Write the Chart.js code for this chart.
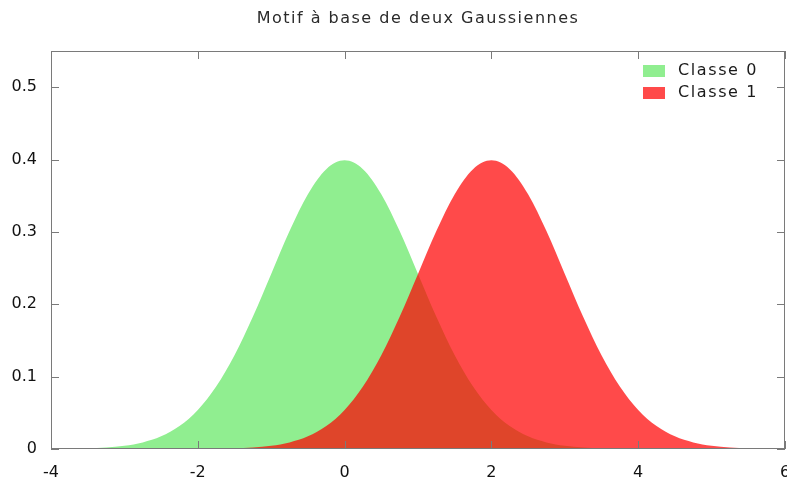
<!DOCTYPE html>
<html>
<head>
<meta charset="utf-8">
<script src="https://cdn.jsdelivr.net/npm/chart.js@4/dist/chart.umd.min.js"></script>
<style>
  html, body { margin: 0; padding: 0; background: #fff; }
  #wrap { width: 787px; height: 482px; }
</style>
</head>
<body>
<div id="wrap"><canvas id="gaussChart" width="787" height="482"></canvas></div>
<script>
// Values
const chartTitle = 'Motif à base de deux Gaussiennes';
const seriesNames = ['Classe 0', 'Classe 1'];
const xValues = [-4, -3.75, -3.5, -3.25, -3, -2.75, -2.5, -2.25, -2, -1.75, -1.5, -1.25, -1, -0.75, -0.5, -0.25,
    0, 0.25, 0.5, 0.75, 1, 1.25, 1.5, 1.75, 2, 2.25, 2.5, 2.75, 3, 3.25, 3.5, 3.75, 4, 4.25, 4.5, 4.75, 5, 5.25, 5.5, 5.75, 6];
const class0Values = [0.0001, 0.0004, 0.0009, 0.0020, 0.0044, 0.0091, 0.0175, 0.0317, 0.0540, 0.0863, 0.1295, 0.1826,
    0.2420, 0.3011, 0.3521, 0.3867, 0.3989, 0.3867, 0.3521, 0.3011, 0.2420, 0.1826, 0.1295, 0.0863, 0.0540, 0.0317,
    0.0175, 0.0091, 0.0044, 0.0020, 0.0009, 0.0004, 0.0001, 0, 0, 0, 0, 0, 0, 0, 0];
const class1Values = [0, 0, 0, 0, 0, 0, 0, 0, 0.0001, 0.0004, 0.0009, 0.0020, 0.0044, 0.0091, 0.0175, 0.0317, 0.0540,
    0.0863, 0.1295, 0.1826, 0.2420, 0.3011, 0.3521, 0.3867, 0.3989, 0.3867, 0.3521, 0.3011, 0.2420, 0.1826, 0.1295,
    0.0863, 0.0540, 0.0317, 0.0175, 0.0091, 0.0044, 0.0020, 0.0009, 0.0004, 0.0001];
const xTicks = [-4, -2, 0, 2, 4, 6];
const yTicks = [0, 0.1, 0.2, 0.3, 0.4, 0.5];

const colors = ['#90ee90', 'rgba(255, 0, 0, 0.71)'];
const fontFamily = '"DejaVu Sans", sans-serif';

function toPoints(values) {
    return values.map((v, i) => ({ x: xValues[i], y: v }));
}

// gnuplot-like frame: box, inward ticks on all sides, title and key
const framePlugin = {
    id: 'frame',
    afterDraw(chart) {
        const ctx = chart.ctx;
        const a = chart.chartArea;
        const xs = chart.scales.x;
        const ys = chart.scales.y;
        const tick = 8;
        ctx.save();
        ctx.strokeStyle = '#7a7a7a';
        ctx.lineWidth = 1;
        ctx.strokeRect(a.left + 0.5, a.top + 0.5, a.right - a.left - 1, a.bottom - a.top - 1);
        ctx.beginPath();
        xTicks.forEach(t => {
            const px = Math.round(xs.getPixelForValue(t)) + 0.5;
            ctx.moveTo(px, a.bottom); ctx.lineTo(px, a.bottom - tick);
            ctx.moveTo(px, a.top); ctx.lineTo(px, a.top + tick);
        });
        yTicks.forEach(t => {
            const py = Math.round(ys.getPixelForValue(t)) + 0.5;
            ctx.moveTo(a.left, py); ctx.lineTo(a.left + tick, py);
            ctx.moveTo(a.right, py); ctx.lineTo(a.right - tick, py);
        });
        ctx.stroke();

        // title
        ctx.fillStyle = '#2a2a2a';
        ctx.font = '16px ' + fontFamily;
        ctx.letterSpacing = '1.5px';
        ctx.textAlign = 'center';
        ctx.textBaseline = 'middle';
        ctx.fillText(chartTitle, (a.left + a.right) / 2, 19);

        // key
        ctx.font = '16px ' + fontFamily;
        ctx.letterSpacing = '1.6px';
        ctx.textAlign = 'left';
        chart.data.datasets.forEach((ds, i) => {
            const y = 71 + i * 22;
            ctx.fillStyle = ds.backgroundColor;
            ctx.fillRect(643, y - 6, 22, 12);
            ctx.fillStyle = '#1a1a1a';
            ctx.fillText(ds.label, 678, y);
        });
        ctx.restore();
    }
};

function createGaussChart() {
    const ctx = document.getElementById('gaussChart').getContext('2d');
    new Chart(ctx, {
        type: 'line',
        data: {
            datasets: [
                {
                    label: seriesNames[0],
                    data: toPoints(class0Values),
                    backgroundColor: colors[0],
                    borderWidth: 0,
                    pointRadius: 0,
                    fill: 'origin',
                    cubicInterpolationMode: 'monotone',
                    order: 2
                },
                {
                    label: seriesNames[1],
                    data: toPoints(class1Values),
                    backgroundColor: colors[1],
                    borderWidth: 0,
                    pointRadius: 0,
                    fill: 'origin',
                    cubicInterpolationMode: 'monotone',
                    order: 1
                }
            ]
        },
        options: {
            responsive: false,
            animation: false,
            layout: { padding: { top: 51, right: 2, bottom: 0, left: 0 } },
            plugins: {
                legend: { display: false },
                title: { display: false },
                tooltip: { enabled: false }
            },
            scales: {
                x: {
                    type: 'linear',
                    min: -4,
                    max: 6,
                    afterBuildTicks: s => { s.ticks = xTicks.map(v => ({ value: v })); },
                    afterFit: s => { s.height = 33; s.paddingLeft = 0; s.paddingRight = 0; },
                    grid: { display: false, drawTicks: false },
                    border: { display: false },
                    ticks: {
                        padding: 14,
                        color: '#111',
                        font: { family: fontFamily, size: 16 },
                        maxRotation: 0
                    }
                },
                y: {
                    min: 0,
                    max: 0.55,
                    afterBuildTicks: s => { s.ticks = yTicks.map(v => ({ value: v })); },
                    afterFit: s => { s.width = 51; s.paddingTop = 0; s.paddingBottom = 0; },
                    grid: { display: false, drawTicks: false },
                    border: { display: false },
                    ticks: {
                        padding: 14,
                        color: '#111',
                        font: { family: fontFamily, size: 16 },
                        callback: v => String(Math.round(v * 10) / 10)
                    }
                }
            }
        },
        plugins: [framePlugin]
    });
}

window.onload = function() {
    createGaussChart();
};
</script>
</body>
</html>
